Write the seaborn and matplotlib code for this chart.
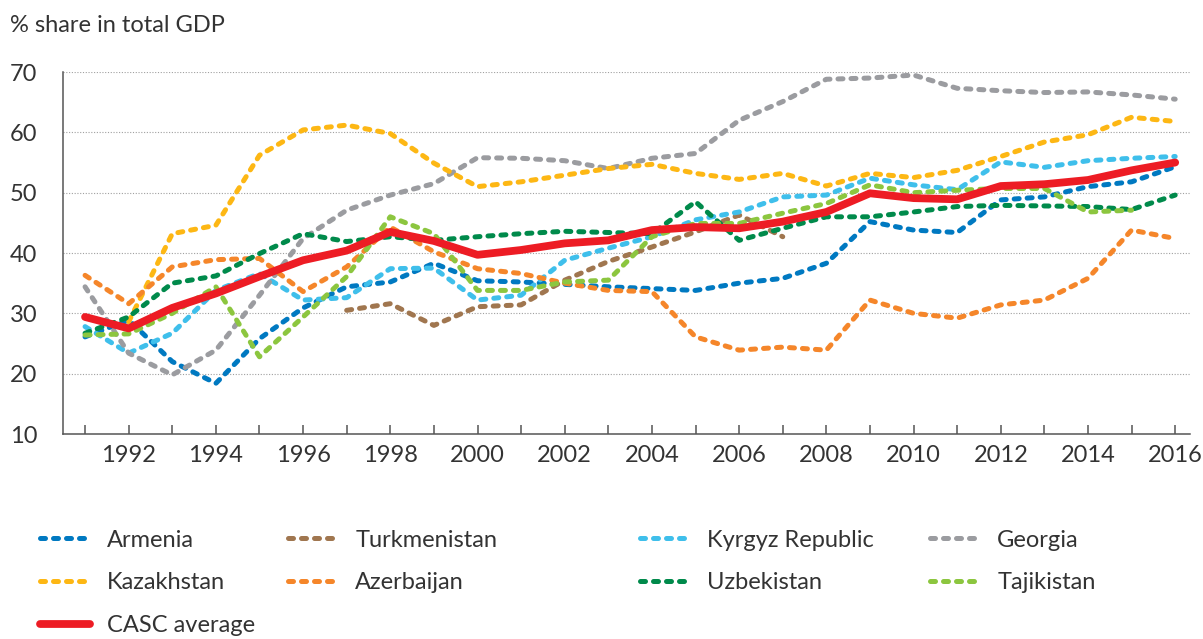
import numpy as np
import pandas as pd
import seaborn as sns
import matplotlib.pyplot as plt
from matplotlib.lines import Line2D
from matplotlib.ticker import FixedLocator

nan = np.nan
years = list(range(1991, 2017))

armenia = [26.1, 28.9, 22.0, 18.4, 25.8, 30.9, 34.4, 35.2, 38.3, 35.4, 35.2, 34.8, 34.4,
           34.1, 33.8, 35.0, 35.8, 38.3, 45.2, 43.8, 43.4, 48.8, 49.3, 51.0, 51.8, 54.3]
turkmenistan = [nan, nan, nan, nan, nan, nan, 30.5, 31.6, 28.0, 31.1, 31.4, 35.5, 38.6,
                41.0, 43.5, 46.3, 42.7, nan, nan, nan, nan, nan, nan, nan, nan, nan]
kyrgyz = [27.8, 23.4, 26.7, 33.8, 36.6, 32.2, 32.6, 37.4, 37.5, 32.2, 33.0, 38.8, 40.8,
          42.7, 45.5, 46.8, 49.3, 49.6, 52.4, 51.3, 50.5, 55.1, 54.2, 55.3, 55.7, 56.0]
georgia = [34.4, 23.4, 19.8, 23.9, 33.0, 42.4, 47.1, 49.6, 51.5, 55.8, 55.7, 55.3, 54.0,
           55.7, 56.5, 62.0, 65.1, 68.8, 69.0, 69.5, 67.3, 66.9, 66.6, 66.7, 66.2, 65.5]
kazakhstan = [nan, 28.6, 43.2, 44.6, 56.2, 60.4, 61.2, 59.8, 54.9, 51.0, 51.8, 52.9, 54.0,
              54.7, 53.2, 52.2, 53.2, 51.1, 53.2, 52.5, 53.7, 56.0, 58.4, 59.6, 62.5, 61.8]
azerbaijan = [36.3, 31.6, 37.7, 38.9, 39.1, 33.6, 37.7, 44.3, 40.2, 37.4, 36.6, 35.0, 33.8,
              33.6, 26.1, 23.9, 24.4, 23.9, 32.2, 30.0, 29.2, 31.4, 32.2, 35.8, 43.8, 42.4]
uzbekistan = [26.7, 29.4, 35.0, 36.2, 39.9, 43.2, 41.9, 42.7, 42.1, 42.7, 43.2, 43.6, 43.4,
              43.2, 48.5, 42.1, 44.1, 46.0, 46.0, 46.8, 47.7, 47.9, 47.8, 47.7, 47.2, 49.6]
tajikistan = [26.4, 26.6, 30.0, 34.4, 22.8, 29.4, 36.1, 46.0, 43.2, 33.8, 33.8, 35.2, 35.5,
              42.7, 44.9, 44.9, 46.6, 48.2, 51.3, 50.0, 50.4, 50.7, 50.7, 46.8, 47.1, nan]
casc = [29.4, 27.5, 30.9, 33.3, 36.1, 38.8, 40.4, 43.5, 42.0, 39.7, 40.5, 41.6, 42.1,
        43.8, 44.3, 44.1, 45.2, 46.8, 49.9, 49.1, 48.9, 51.1, 51.4, 52.1, 53.7, 55.0]

series = {
    "Armenia": (armenia, "#0079c1"),
    "Turkmenistan": (turkmenistan, "#a0764f"),
    "Kyrgyz Republic": (kyrgyz, "#3fbfeb"),
    "Georgia": (georgia, "#9b9ca0"),
    "Kazakhstan": (kazakhstan, "#fdb714"),
    "Azerbaijan": (azerbaijan, "#f5862a"),
    "Uzbekistan": (uzbekistan, "#008a4b"),
    "Tajikistan": (tajikistan, "#8cc63f"),
}
casc_color = "#ed1c24"

sns.set_theme(style="white")
plt.rcParams['font.family'] = ['Lato', 'DejaVu Sans']
text_color = "#333333"
fs = 17

fig = plt.figure(figsize=(12.03, 6.39), dpi=100)
ax = fig.add_axes([0.0524, 0.3208, 0.9368, 0.5665])

dash = (1.0, 1.6)
lw = 3.6
casc_lw = 5.6
for name, (vals, col) in series.items():
    df = pd.DataFrame({'year': years, 'value': vals}).dropna()
    sns.lineplot(data=df, x='year', y='value', color=col, linewidth=lw, ax=ax)
    ln = ax.lines[-1]
    ln.set_dashes(dash)
    ln.set_dash_capstyle('round')

df = pd.DataFrame({'year': years, 'value': casc})
sns.lineplot(data=df, x='year', y='value', color=casc_color, linewidth=casc_lw, ax=ax)
ax.lines[-1].set_solid_capstyle('round')
ax.lines[-1].set_solid_joinstyle('round')

ax.set_xlim(1990.495, 2016.34)
ax.set_ylim(10, 70)
ax.set_xlabel('')
ax.set_ylabel('')

ax.set_xticks(range(1992, 2017, 2))
ax.xaxis.set_minor_locator(FixedLocator(range(1991, 2017, 2)))
ax.tick_params(axis='x', which='both', direction='in', length=6.5, width=1.1,
               color='#555555', bottom=True, labelsize=fs, labelcolor=text_color, pad=8)

ax.set_yticks(range(10, 71, 10))
ax.yaxis.set_minor_locator(FixedLocator([10, 70]))
ax.tick_params(axis='y', which='major', length=0, labelsize=fs, labelcolor=text_color, pad=18.5)
ax.tick_params(axis='y', which='minor', direction='out', length=6.5, width=1.1,
               color='#555555', left=True)

for y in range(20, 71, 10):
    ax.axhline(y, color='#a0a0a0', linewidth=0.8, linestyle=(0, (1, 1.5)), zorder=0)

for s in ['top', 'right']:
    ax.spines[s].set_visible(False)
for s in ['left', 'bottom']:
    ax.spines[s].set_color('#555555')
    ax.spines[s].set_linewidth(1.1)

fig.text(0.0083, 1 - 25 / 639, "% share in total GDP", fontsize=fs, color=text_color,
         va='center', ha='left')

# legend: four separate columns
columns = [
    ["Armenia", "Kazakhstan", "CASC average"],
    ["Turkmenistan", "Azerbaijan"],
    ["Kyrgyz Republic", "Uzbekistan"],
    ["Georgia", "Tajikistan"],
]
col_x = [40 / 1203, 288 / 1203, 640 / 1203, 930 / 1203]
for labels, x in zip(columns, col_x):
    handles = []
    for lab in labels:
        if lab == "CASC average":
            h = Line2D([], [], color=casc_color, linewidth=casc_lw, solid_capstyle='round')
        else:
            h = Line2D([], [], color=series[lab][1], linewidth=lw,
                       dash_capstyle='round')
            h.set_dashes(dash)
        handles.append(h)
    fig.legend(handles, labels, loc='upper left', bbox_to_anchor=(x, 0.171),
               frameon=False, fontsize=fs, handlelength=2.1, handletextpad=0.75,
               labelspacing=0.92, borderpad=0, borderaxespad=0,
               labelcolor=text_color)

fig.savefig('out.png', dpi=100)
